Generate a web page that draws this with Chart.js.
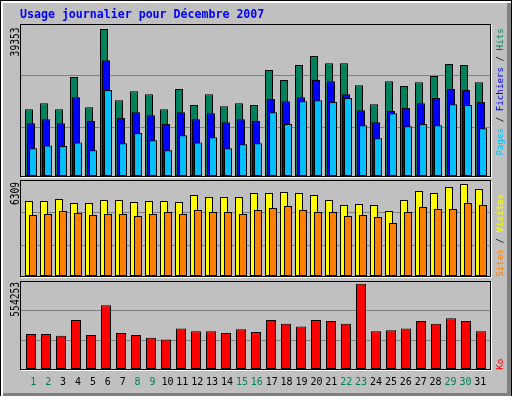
<!DOCTYPE html>
<html>
<head>
<meta charset="utf-8">
<script src="https://cdn.jsdelivr.net/npm/chart.js@4.4.1/dist/chart.umd.min.js"></script>
<style>
  html, body { margin: 0; padding: 0; background: #fff; }
  #frame {
    position: relative; width: 512px; height: 396px; background: #c0c0c0;
    box-shadow: inset 1px 1px 0 #000, inset -1px 0 0 #000, inset 3px 3px 0 #fff, inset -5px -3px 0 #808080;
  }
  canvas { position: absolute; left: 0; }
</style>
</head>
<body>
<div id="frame">
  <canvas id="usage" width="512" height="179" style="top:0"></canvas>
  <canvas id="visits" width="512" height="100" style="top:179px"></canvas>
  <canvas id="kbytes" width="512" height="121" style="top:279px"></canvas>
</div>
<script>
const days = [1, 2, 3, 4, 5, 6, 7, 8, 9, 10, 11, 12, 13, 14, 15, 16, 17, 18, 19, 20, 21, 22, 23, 24, 25, 26, 27, 28, 29, 30, 31]
const weekendDays = [1, 2, 8, 9, 15, 16, 22, 23, 29, 30]

const hits = [17900, 19500, 17900, 26500, 18400, 39353, 20300, 22700, 21900, 17900, 23300, 19000, 21900, 18700, 19500, 19000,
      28400, 25700, 29700, 32100, 30200, 30200, 24300, 19200, 25400, 24100, 25100, 26800, 30000, 29700, 25100]
const files = [14100, 15200, 14100, 21100, 14700, 31000, 15500, 17100, 16300, 13900, 17100, 15200, 16800, 14400, 15200, 14700,
      20600, 20000, 21100, 25700, 25400, 21900, 17600, 14400, 17400, 18200, 19500, 20900, 23300, 23000, 19800]
const pages = [7400, 8200, 8000, 9000, 6900, 23000, 8800, 11500, 9600, 6900, 10900, 9000, 10400, 7400, 8500, 8800,
      17100, 13900, 20000, 20300, 19800, 20900, 13600, 10100, 16800, 13300, 13900, 13600, 19200, 19000, 12800]
const visits = [5140, 5140, 5280, 5000, 5000, 5210, 5210, 5070, 5140, 5140, 5070, 5550, 5420, 5420, 5420, 5690,
      5690, 5760, 5690, 5550, 5210, 4860, 4930, 4860, 4450, 5210, 5830, 5690, 6100, 6309, 5970]
const sites = [4180, 4250, 4450, 4310, 4180, 4250, 4250, 4110, 4250, 4380, 4250, 4520, 4380, 4380, 4250, 4520,
      4660, 4800, 4520, 4380, 4380, 4110, 4180, 4040, 3630, 4380, 4730, 4590, 4590, 5000, 4860]
const kbytes = [227900, 227900, 215800, 318500, 221800, 415200, 233900, 221800, 203700, 191600, 264100, 246000, 246000, 233900, 258100, 239900,
      318500, 294300, 276200, 318500, 312500, 294300, 554253, 246000, 252000, 264100, 312500, 294300, 330600, 312500, 246000]

const maxLabels = ['39353', '6309', '554253']

const hitColor = '#00805c'
const fileColor = '#0000ff'
const pageColor = '#00c0ff'
const visitColor = '#ffff00'
const siteColor = '#ff8000'
const kbColor = '#ff0000'

const plotWidth = 470

// hidden x axis that puts day 1 at `first` px from the left edge of the plot
function xAxis(first, step = 15) {
      const min = days[0] - first / step
      return { type: 'linear', display: false, offset: false, min: min, max: min + plotWidth / step }
}

// the two grey index lines sit at fixed fractions of the panel height
function yAxis(top) {
      return {
            min: 0,
            max: top,
            ticks: { display: false },
            border: { display: false },
            grid: { color: '#808080', drawTicks: false },
            afterBuildTicks: s => { s.ticks = [0.32, 0.66].map(f => ({ value: f * top })) }
      }
}

function bar(label, data, color, axis, width) {
      return {
            label: label, data: data, xAxisID: axis,
            backgroundColor: color, borderColor: '#000', borderWidth: 1,
            borderSkipped: false, inflateAmount: 0, grouped: false, barThickness: width
      }
}

const sideText = {
      id: 'sideText',
      afterDraw(chart, args, opts) {
            const { ctx, chartArea: a } = chart
            ctx.save()
            ctx.fillStyle = '#000'
            ctx.fillRect(a.left, a.top, a.right - a.left + 1, 1)
            ctx.fillRect(a.left, a.top, 1, a.bottom - a.top + 1)
            ctx.fillRect(a.left, a.bottom, a.right - a.left + 1, 1)
            ctx.fillRect(a.right, a.top, 1, a.bottom - a.top + 1)
            ctx.fillStyle = '#fff'
            ctx.fillRect(a.left + 1, a.bottom + 1, a.right - a.left + 1, 1)
            ctx.fillRect(a.right + 1, a.top + 1, 1, a.bottom - a.top + 1)

            // max value, written upwards on the left (narrow font)
            ctx.save()
            ctx.font = '12px "DejaVu Sans Mono"'
            ctx.fillStyle = '#000'
            ctx.translate(19, a.top + opts.labelY)
            ctx.rotate(-Math.PI / 2)
            ctx.scale(0.8, 1)
            ctx.textAlign = 'right'
            ctx.fillText(opts.label, 0, 0)
            ctx.restore()

            // legend, written upwards on the right
            ctx.font = '9.2px "DejaVu Sans Mono"'
            ctx.translate(503, a.bottom + opts.legendY)
            ctx.rotate(-Math.PI / 2)
            ctx.textAlign = 'left'
            let x = 0
            opts.legend.forEach(([text, color]) => {
                  ctx.fillStyle = color
                  ctx.fillText(text, x, 0)
                  x += ctx.measureText(text).width
            })
            ctx.restore()
      }
}

const common = {
      responsive: false,
      animation: false,
      events: []
}

new Chart(document.getElementById('usage'), {
      type: 'bar',
      data: {
            labels: days,
            datasets: [
                  bar('Pages', pages, pageColor, 'xp', 8),
                  bar('Fichiers', files, fileColor, 'xf', 8),
                  bar('Hits', hits, hitColor, 'xh', 8)
            ]
      },
      options: {
            ...common,
            layout: { padding: { left: 20, right: 22, top: 0, bottom: 3 } },
            scales: { xh: xAxis(9), xf: xAxis(11), xp: xAxis(13), y: yAxis(40700) },
            plugins: {
                  legend: { display: false },
                  tooltip: { enabled: false },
                  title: {
                        display: true, align: 'start', color: '#0000ff',
                        text: 'Usage journalier pour Décembre 2007',
                        font: { family: 'DejaVu Sans Mono', size: 11.6, weight: 'bold', lineHeight: '14px' },
                        padding: { top: 8, bottom: 2 }
                  },
                  sideText: {
                        label: maxLabels[0], labelY: 3.5, legendY: -20.5,
                        legend: [['Pages', pageColor], [' / ', '#000'], ['Fichiers', fileColor], [' / ', '#000'], ['Hits', hitColor]]
                  }
            }
      },
      plugins: [sideText]
})

new Chart(document.getElementById('visits'), {
      type: 'bar',
      data: {
            labels: days,
            datasets: [
                  bar('Sites', sites, siteColor, 'xs', 8),
                  bar('Visites', visits, visitColor, 'xv', 8)
            ]
      },
      options: {
            ...common,
            layout: { padding: { left: 20, right: 22, top: 1, bottom: 3 } },
            scales: { xv: xAxis(9), xs: xAxis(13), y: yAxis(6580) },
            plugins: {
                  legend: { display: false },
                  tooltip: { enabled: false },
                  sideText: {
                        label: maxLabels[1], labelY: 2, legendY: 0.7,
                        legend: [['Sites', siteColor], [' / ', '#000'], ['Visites', visitColor]]
                  }
            }
      },
      plugins: [sideText]
})

new Chart(document.getElementById('kbytes'), {
      type: 'bar',
      data: {
            labels: days,
            datasets: [bar('Ko', kbytes, kbColor, 'xk', 10)]
      },
      options: {
            ...common,
            layout: { padding: { left: 20, right: 22, top: 2, bottom: 5 } },
            scales: {
                  xk: xAxis(11),
                  xl: {
                        ...xAxis(13.3, 14.9),
                        display: true,
                        position: 'bottom',
                        grid: { display: false, drawTicks: false },
                        border: { display: false },
                        afterBuildTicks: s => { s.ticks = days.map(d => ({ value: d })) },
                        ticks: {
                              autoSkip: false, maxRotation: 0, minRotation: 0, padding: 7,
                              font: { family: 'DejaVu Sans Mono', size: 10, lineHeight: '12px' },
                              color: c => weekendDays.includes(c.tick.value) ? hitColor : '#000'
                        }
                  },
                  y: yAxis(572300)
            },
            plugins: {
                  legend: { display: false },
                  tooltip: { enabled: false },
                  sideText: {
                        label: maxLabels[2], labelY: 1, legendY: 0.7,
                        legend: [['Ko', kbColor]]
                  }
            }
      },
      plugins: [sideText]
})
</script>
</body>
</html>
